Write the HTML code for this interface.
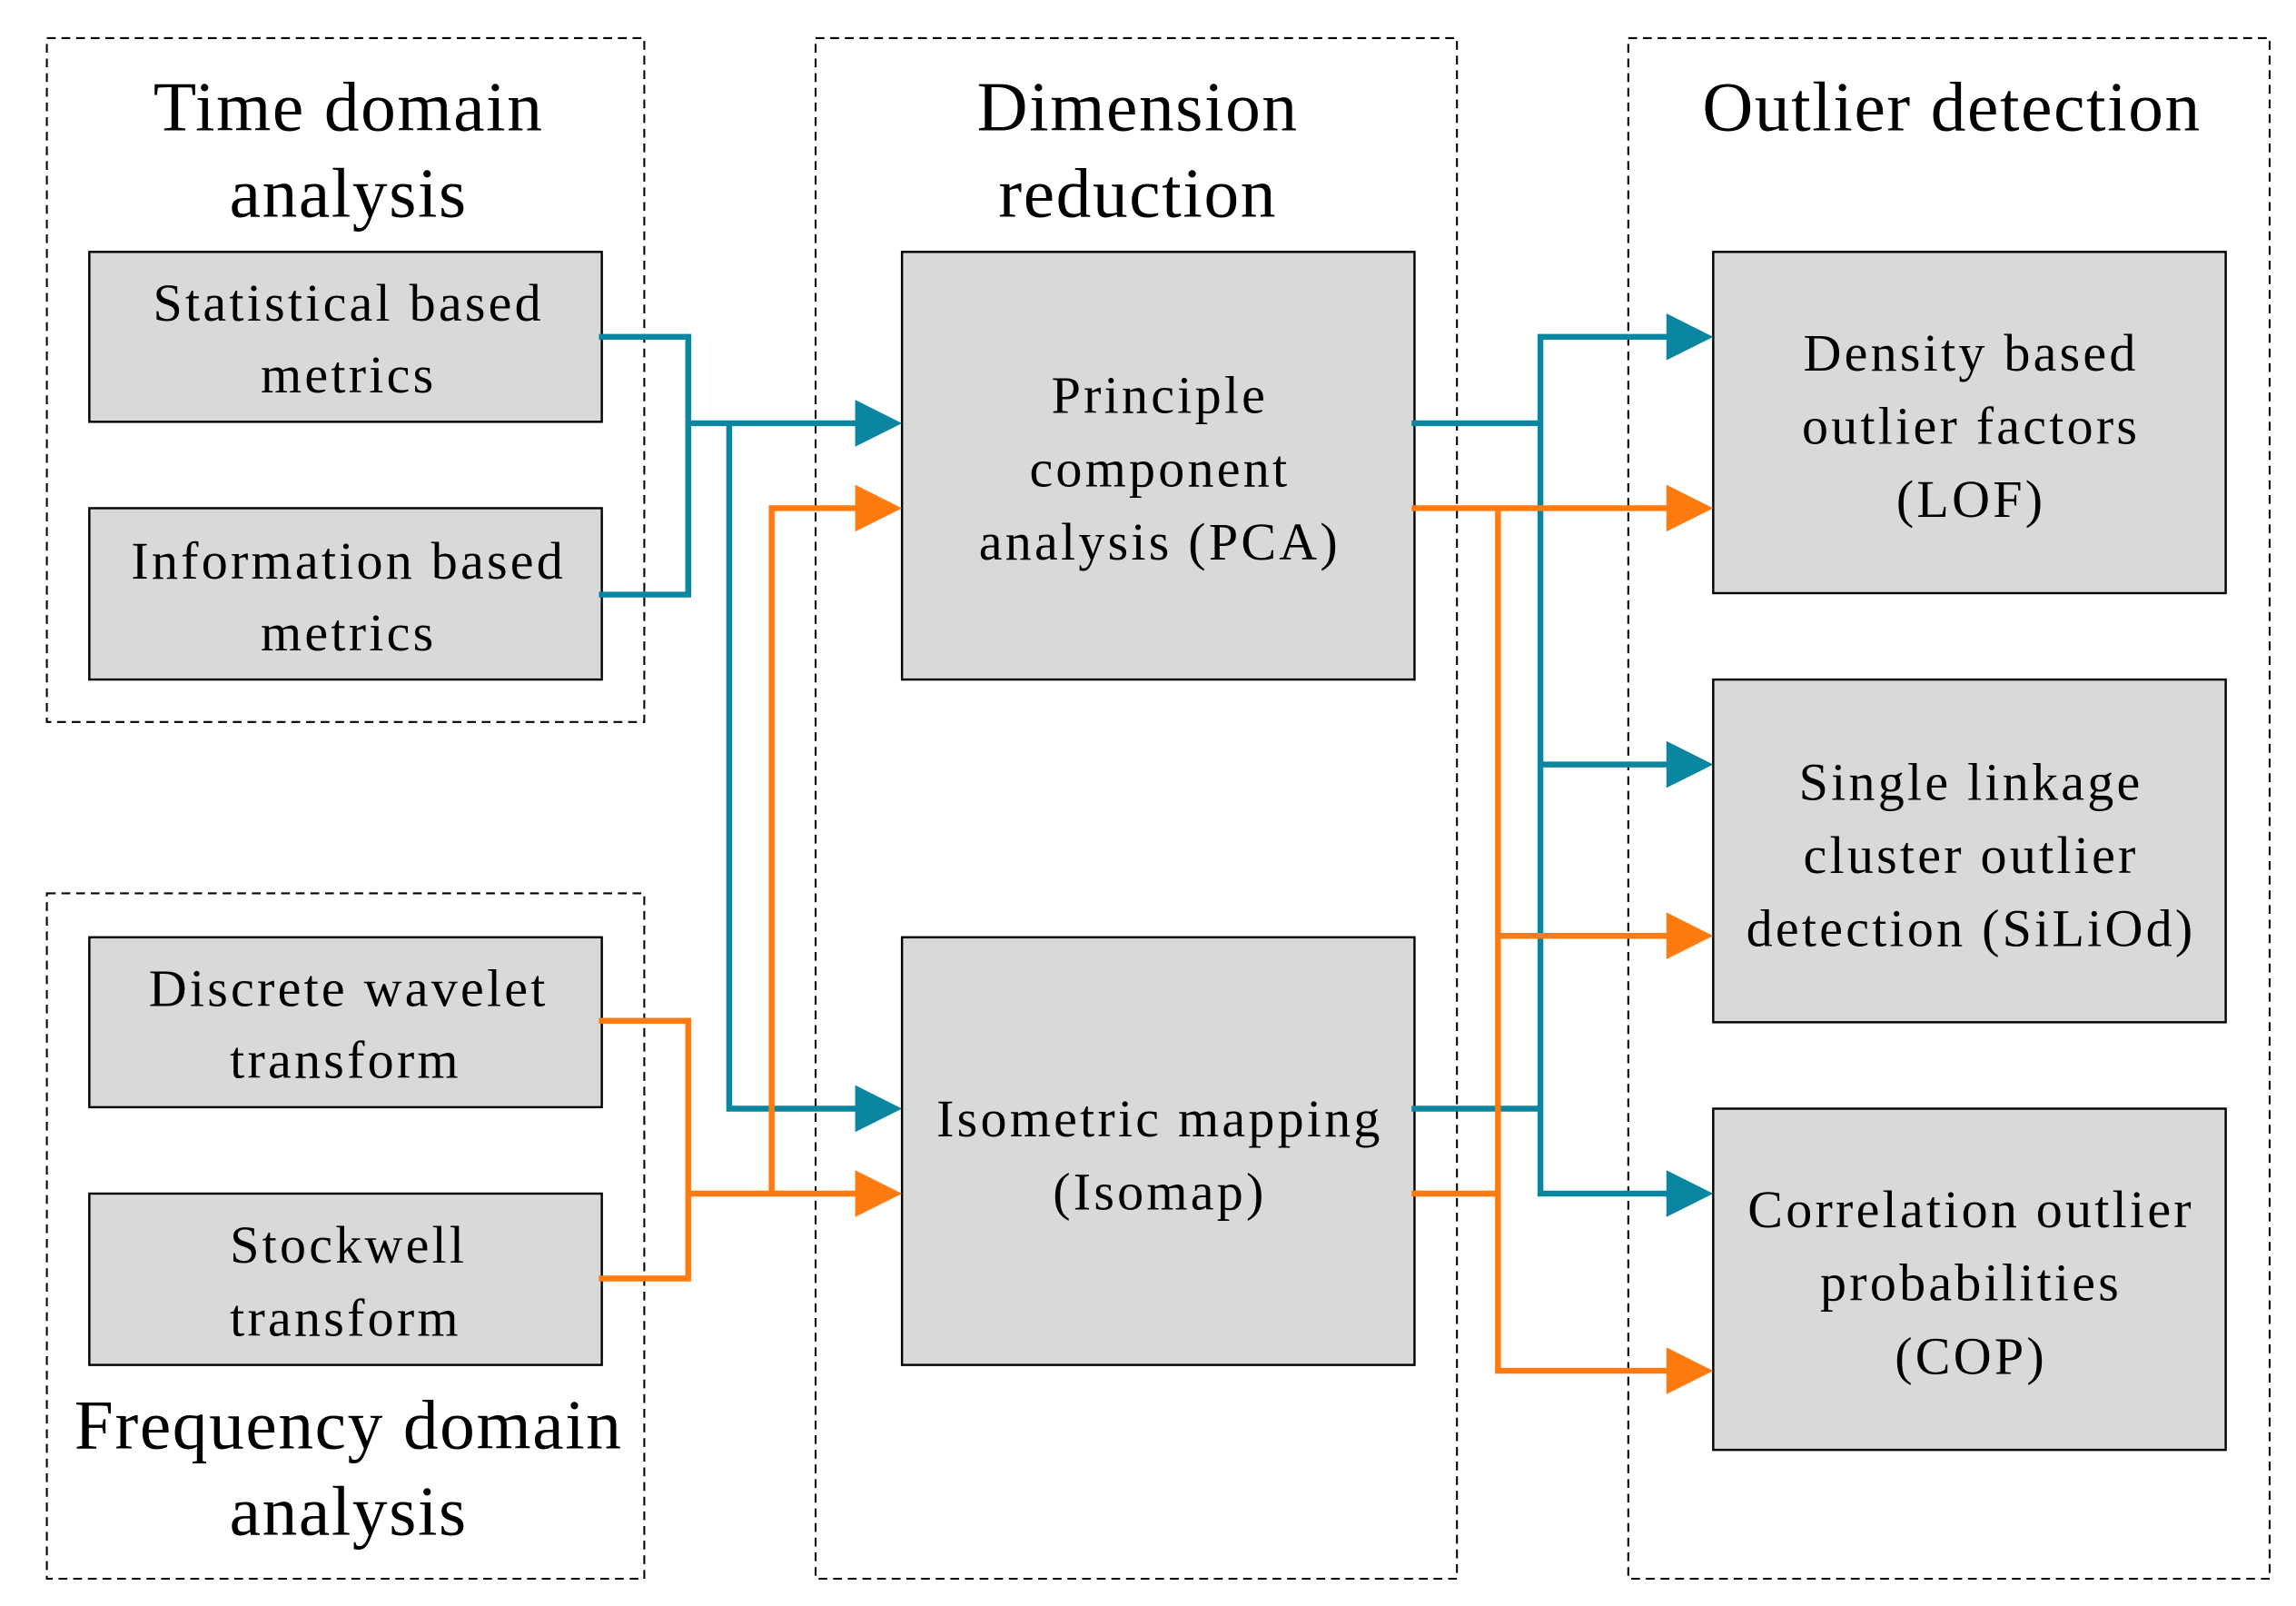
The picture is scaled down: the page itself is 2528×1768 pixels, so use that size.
<!DOCTYPE html>
<html><head><meta charset="utf-8"><style>
html,body{margin:0;padding:0;background:#fff;}
svg{display:block;}
text{font-family:"Liberation Serif",serif;fill:#000;text-anchor:middle;}
.t{font-size:48px;letter-spacing:1px;}
.b{font-size:36px;letter-spacing:2px;}
</style></head><body>
<svg width="2528" height="1768" viewBox="0 0 1568 1096.6" preserveAspectRatio="none" xmlns="http://www.w3.org/2000/svg">
<g fill="none" stroke="#000" stroke-width="1.3" stroke-dasharray="6,4">
<rect x="32" y="26" width="408" height="467"/>
<rect x="32" y="610" width="408" height="468"/>
<rect x="557" y="26" width="438" height="1052"/>
<rect x="1112" y="26" width="438" height="1052"/>
</g>
<g fill="#d9d9d9" stroke="#000" stroke-width="1.5">
<rect x="61" y="172" width="350" height="116"/>
<rect x="61" y="347" width="350" height="117"/>
<rect x="61" y="640" width="350" height="116"/>
<rect x="61" y="815" width="350" height="117"/>
<rect x="616" y="172" width="350" height="292"/>
<rect x="616" y="640" width="350" height="292"/>
<rect x="1170" y="172" width="350" height="233"/>
<rect x="1170" y="464" width="350" height="234"/>
<rect x="1170" y="757" width="350" height="233"/>
</g>
<g fill="none" stroke-width="4" stroke-linejoin="miter">
<g stroke="#0A86A0">
<polyline points="409,230 470,230 470,406 409,406"/>
<polyline points="470,289 590,289"/>
<polyline points="498,289 498,757 590,757"/>
<polyline points="964,289 1052,289"/>
<polyline points="964,757 1052,757"/>
<polyline points="1144,230 1052,230 1052,815 1144,815"/>
<polyline points="1052,522 1144,522"/>
</g>
<g stroke="#FF7B0F">
<polyline points="409,697 470,697 470,873 409,873"/>
<polyline points="470,815 590,815"/>
<polyline points="527,815 527,347 590,347"/>
<polyline points="964,347 1144,347"/>
<polyline points="964,815 1023,815"/>
<polyline points="1023,347 1023,936 1144,936"/>
<polyline points="1023,639 1144,639"/>
</g>
</g>
<g fill="#0A86A0">
<polygon points="584,273 616,289 584,305"/>
<polygon points="584,741 616,757 584,773"/>
<polygon points="1138,214 1170,230 1138,246"/>
<polygon points="1138,506 1170,522 1138,538"/>
<polygon points="1138,799 1170,815 1138,831"/>
</g>
<g fill="#FF7B0F">
<polygon points="584,331 616,347 584,363"/>
<polygon points="584,799 616,815 584,831"/>
<polygon points="1138,331 1170,347 1138,363"/>
<polygon points="1138,623 1170,639 1138,655"/>
<polygon points="1138,920 1170,936 1138,952"/>
</g>
<text class="t" x="238" y="89">Time domain</text>
<text class="t" x="238" y="148">analysis</text>
<text class="t" x="777" y="89">Dimension</text>
<text class="t" x="777" y="148">reduction</text>
<text class="t" x="1333" y="89">Outlier detection</text>
<text class="t" x="238" y="989">Frequency domain</text>
<text class="t" x="238" y="1048">analysis</text>
<text class="b" x="238" y="219">Statistical based</text>
<text class="b" x="238" y="268">metrics</text>
<text class="b" x="238" y="395">Information based</text>
<text class="b" x="238" y="444">metrics</text>
<text class="b" x="238" y="687">Discrete wavelet</text>
<text class="b" x="236" y="736">transform</text>
<text class="b" x="238" y="862">Stockwell</text>
<text class="b" x="236" y="912">transform</text>
<text class="b" x="792" y="282">Principle</text>
<text class="b" x="792" y="332">component</text>
<text class="b" x="792" y="382">analysis (PCA)</text>
<text class="b" x="792" y="776">Isometric mapping</text>
<text class="b" x="792" y="826">(Isomap)</text>
<text class="b" x="1346" y="253">Density based</text>
<text class="b" x="1346" y="303">outlier factors</text>
<text class="b" x="1346" y="353">(LOF)</text>
<text class="b" x="1346" y="546">Single linkage</text>
<text class="b" x="1346" y="596">cluster outlier</text>
<text class="b" x="1346" y="646">detection (SiLiOd)</text>
<text class="b" x="1346" y="838">Correlation outlier</text>
<text class="b" x="1346" y="888">probabilities</text>
<text class="b" x="1346" y="938">(COP)</text>
</svg>
</body></html>
